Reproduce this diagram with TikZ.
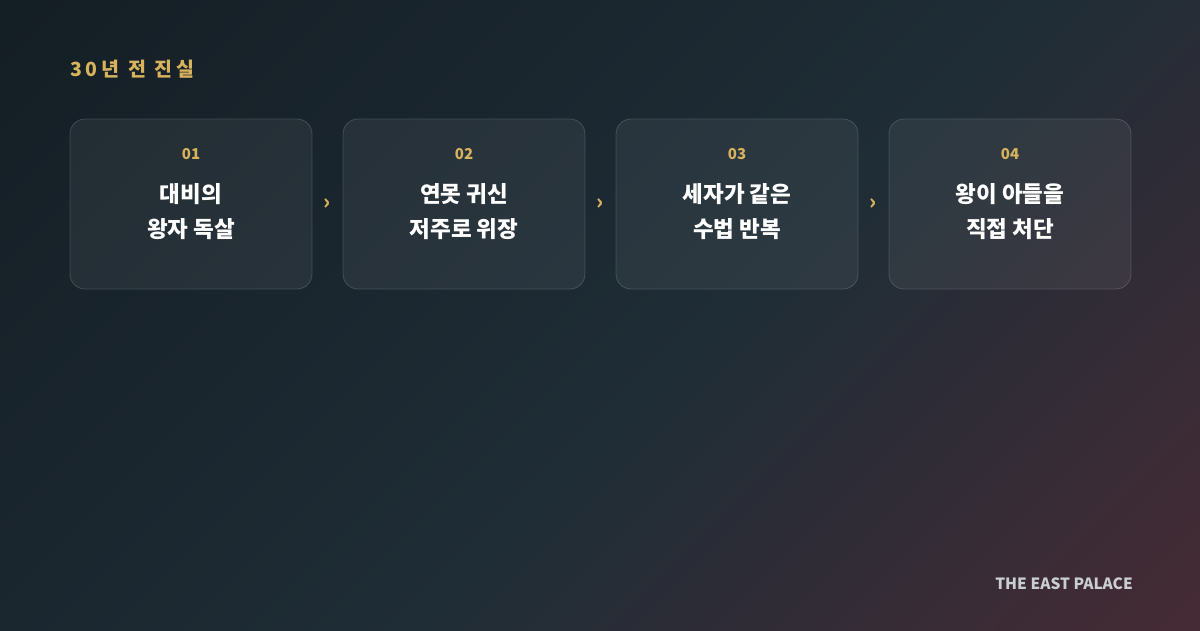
\documentclass[tikz,border=0pt]{standalone}
\usepackage{fontspec}
\setmainfont{Noto Sans CJK KR}
\usepackage{tikz}
\usetikzlibrary{positioning}
\definecolor{gold}{HTML}{D8B35E}
\definecolor{bgtop}{HTML}{10181E}
\definecolor{bgmid}{HTML}{1F2D36}
\definecolor{bgend}{HTML}{582A35}
\definecolor{brandgray}{HTML}{C9CED2}
\pgfdeclarehorizontalshading{bgfade}{100bp}{color(0bp)=(bgtop); color(55bp)=(bgmid); color(100bp)=(bgend)}
\tikzstyle{card} = [rectangle, rounded corners=15pt, minimum width=242pt, minimum height=170pt, outer sep=0pt, fill=white, fill opacity=0.06, draw=white, draw opacity=0.16, line width=0.8pt]
\tikzstyle{gap} = [minimum width=31pt, inner sep=0pt, outer sep=0pt, text=gold, font=\bfseries\fontsize{21}{21}\selectfont]
\tikzstyle{num} = [inner sep=0pt, text=gold, font=\bfseries\fontsize{15}{15}\selectfont]
\tikzstyle{headline} = [inner sep=0pt, text=white, align=center, font=\bfseries\fontsize{22.5}{35}\selectfont]

\begin{document}
\begin{tikzpicture}[x=1pt, y=-1pt]
% Background
\shade[shading=bgfade, shading angle=-45] (0,0) rectangle (1200,630);

% Heading
\node (title) [anchor=base west, inner sep=0pt, text=gold, font=\bfseries\fontsize{19.5}{19.5}\selectfont\addfontfeatures{LetterSpace=20}] at (70,76) {30년 전 진실};

% Cards
\node (c1) [card, anchor=north west] at (70,119) {};
\node (g1) [gap, right=0pt of c1] {›};
\node (c2) [card, right=0pt of g1] {};
\node (g2) [gap, right=0pt of c2] {›};
\node (c3) [card, right=0pt of g2] {};
\node (g3) [gap, right=0pt of c3] {›};
\node (c4) [card, right=0pt of g3] {};

% Numbers
\node (n1) [num] at ([yshift=-35pt]c1.north) {01};
\node (n2) [num] at ([yshift=-35pt]c2.north) {02};
\node (n3) [num] at ([yshift=-35pt]c3.north) {03};
\node (n4) [num] at ([yshift=-35pt]c4.north) {04};

% Texts
\node (t1) [headline] at ([yshift=-8pt]c1.center) {대비의\\왕자 독살};
\node (t2) [headline] at ([yshift=-8pt]c2.center) {연못 귀신\\저주로 위장};
\node (t3) [headline] at ([yshift=-8pt]c3.center) {세자가 같은\\수법 반복};
\node (t4) [headline] at ([yshift=-8pt]c4.center) {왕이 아들을\\직접 처단};

% Footer
\node (brand) [anchor=base east, inner sep=0pt, text=brandgray, font=\bfseries\fontsize{15.5}{15.5}\selectfont] at (1133,589) {THE EAST PALACE};

\end{tikzpicture}
\end{document}
